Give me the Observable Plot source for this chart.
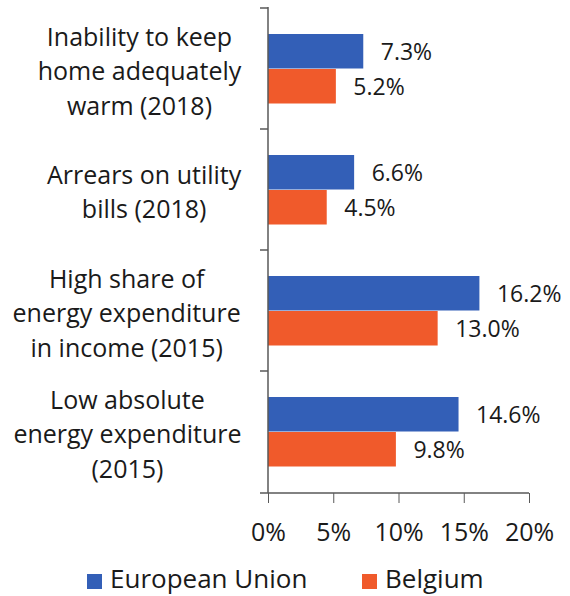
<!DOCTYPE html>
<html><head><meta charset="utf-8">
<script src="https://cdn.jsdelivr.net/npm/d3@7"></script>
<script src="https://cdn.jsdelivr.net/npm/@observablehq/plot@0.6"></script>
<style>
body{margin:0;background:#fff;font-family:"Open Sans",sans-serif;color:#1a1a1a;}
#legend{position:relative;height:36px;font-size:26px;}
.item{position:absolute;top:1px;display:flex;align-items:center;height:36px;line-height:1.2;}
.sw{width:15px;height:15px;margin-right:8px;margin-top:4px;}
</style>
</head><body>
<div id="chart"></div>
<div id="legend"></div>
<script>
const categories = [
  "Inability to keep\nhome adequately\nwarm (2018)",
  "Arrears on utility\nbills (2018)",
  "High share of\nenergy expenditure\nin income (2015)",
  "Low absolute\nenergy expenditure\n(2015)"
];
const series = ["European Union", "Belgium"];
const euValues = [7.3, 6.6, 16.2, 14.6];
const beValues = [5.2, 4.5, 13.0, 9.8];
const xTicks = [0, 5, 10, 15, 20];
const colors = ["#335fb7", "#f05a2b"];

const eu = categories.map((c, i) => ({category: c, series: series[0], value: euValues[i]}));
const be = categories.map((c, i) => ({category: c, series: series[1], value: beValues[i]}));
const fmt = d => d.value.toFixed(1) + "%";
const axisColor = "#595959";

const chart = Plot.plot({
  width: 570,
  height: 560,
  marginTop: 7,
  marginBottom: 67,
  marginLeft: 268,
  marginRight: 41,
  style: {fontFamily: "'Open Sans', sans-serif", color: "#1a1a1a", background: "#fff", overflow: "visible"},
  x: {domain: [0, 20], label: null},
  y: {domain: categories, padding: 0, label: null},
  marks: [
    Plot.barX(eu, {x: "value", y: "category", fill: colors[0], insetTop: 26, insetBottom: 60.5}),
    Plot.barX(be, {x: "value", y: "category", fill: colors[1], insetTop: 61, insetBottom: 25.5}),
    Plot.text(eu, {x: "value", y: "category", text: fmt, dx: 17, dy: -16, textAnchor: "start", fontSize: 23, fill: "#1a1a1a"}),
    Plot.text(be, {x: "value", y: "category", text: fmt, dx: 17, dy: 18.5, textAnchor: "start", fontSize: 23, fill: "#1a1a1a"}),
    Plot.axisX({ticks: xTicks, tickFormat: d => d + "%", tickSize: 10, tickPadding: 20, fontSize: 25, stroke: axisColor, color: "#1a1a1a", label: null}),
    Plot.axisY({tickSize: 0, tickPadding: 27, fontSize: 25, lineHeight: 1.38, color: "#1a1a1a", label: null}),
    (index, scales, values, dims) => {
      const {x, y} = scales;
      const g = d3.create("svg:g").attr("stroke", axisColor).attr("stroke-width", 1.5);
      const x0 = x(0), top = dims.marginTop, bottom = dims.height - dims.marginBottom;
      g.append("line").attr("x1", x0).attr("x2", x0).attr("y1", top).attr("y2", bottom);
      g.append("line").attr("x1", x0 - 8).attr("x2", x(xTicks[xTicks.length - 1])).attr("y1", bottom).attr("y2", bottom);
      for (const c of categories) g.append("line").attr("x1", x0 - 8).attr("x2", x0).attr("y1", y(c)).attr("y2", y(c));
      return g.node();
    }
  ]
});
document.getElementById("chart").appendChild(chart);

// center each line of the category labels within its block (block right-aligned)
chart.querySelectorAll('g[aria-label="y-axis tick label"] text').forEach(t => {
  const b = t.getBBox();
  t.setAttribute("text-anchor", "middle");
  const tr = t.getAttribute("transform") || "";
  t.setAttribute("transform", tr + " translate(" + (-b.width / 2) + ",0)");
});

// legend
const legend = document.getElementById("legend");
const lefts = [87, 362];
series.forEach((s, i) => {
  const it = document.createElement("div");
  it.className = "item";
  it.style.left = lefts[i] + "px";
  it.innerHTML = `<div class="sw" style="background:${colors[i]}"></div><span>${s}</span>`;
  legend.appendChild(it);
});
</script>
</body></html>
